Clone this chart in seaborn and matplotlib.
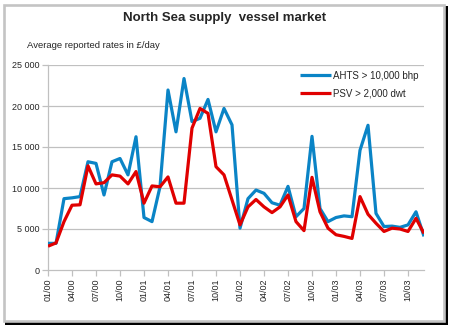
import matplotlib
matplotlib.use("Agg")
import matplotlib.pyplot as plt
from matplotlib.patches import Rectangle
from matplotlib.ticker import FuncFormatter
import numpy as np
import pandas as pd
import seaborn as sns

# Monthly average reported day rates (GBP/day), Jan 2000 - Dec 2003
months = list(range(48))
ahts = [3250, 3250, 8700, 8800, 8950, 13200, 13000, 9150, 13200, 13600, 11600, 16250,
        6400, 5900, 10150, 21950, 16850, 23350, 18100, 18500, 20800, 16850, 19700, 17700,
        5100, 8700, 9750, 9350, 8200, 7900, 10200, 6500, 7500, 16300, 7500, 5900,
        6400, 6600, 6500, 14600, 17650, 6900, 5300, 5350, 5200, 5500, 7100, 4100]
psv = [2900, 3300, 5900, 7900, 7950, 12700, 10500, 10650, 11600, 11450, 10500, 12000,
       8150, 10250, 10150, 11350, 8150, 8150, 17300, 19700, 19100, 12600, 11600, 8550,
       5500, 7700, 8600, 7700, 7000, 7700, 9150, 5900, 4800, 11300, 7100, 5100,
       4300, 4100, 3850, 8950, 6800, 5700, 4700, 5100, 5000, 4700, 6300, 4450]

series_names = ["AHTS > 10,000 bhp", "PSV > 2,000 dwt"]
tick_months = list(range(0, 48, 3))
tick_labels = ["01/00", "04/00", "07/00", "10/00", "01/01", "04/01", "07/01", "10/01",
               "01/02", "04/02", "07/02", "10/02", "01/03", "04/03", "07/03", "10/03"]
y_ticks = [0, 5000, 10000, 15000, 20000, 25000]

df = pd.DataFrame({
    "month": months * 2,
    "rate": ahts + psv,
    "series": [series_names[0]] * len(months) + [series_names[1]] * len(months),
})

sns.set_style("white")
plt.rcParams["font.family"] = ["Liberation Sans", "DejaVu Sans"]

W, H = 452, 328
fig = plt.figure(figsize=(W / 100, H / 100), dpi=100)
fig.patch.set_facecolor("white")

def px(x0, y0, x1, y1):
    """Pixel box (top-left origin) -> figure-fraction rect."""
    return [x0 / W, 1 - y1 / H, (x1 - x0) / W, (y1 - y0) / H]

ax = fig.add_axes(px(48, 65, 424, 270))
ax.set_facecolor("white")

grid_color = "#c0c0c0"
for yv in y_ticks[1:]:
    ax.axhline(yv, color=grid_color, lw=0.9, zorder=0)

sns.lineplot(data=df, x="month", y="rate", hue="series", ax=ax,
             palette={series_names[0]: "#0a84c6", series_names[1]: "#e00000"},
             linewidth=2.3, legend=True, zorder=3)
for line in ax.get_lines():
    line.set_solid_joinstyle("round")
    line.set_solid_capstyle("butt")

ax.set_xlim(0, 47)
ax.set_ylim(0, 25000)
ax.set_xticks(tick_months)
ax.set_xticklabels(tick_labels, rotation=90, fontsize=6.5)
ax.set_yticks(y_ticks)
ax.yaxis.set_major_formatter(FuncFormatter(lambda v, p: f"{int(v):,}".replace(",", " ")))
ax.tick_params(axis="y", labelsize=6.5, length=4, width=0.9, color=grid_color, pad=2)
ax.tick_params(axis="x", length=4, width=0.9, color=grid_color, pad=2)
ax.tick_params(bottom=True, left=True)
ax.set_xlabel("")
ax.set_ylabel("")
for side in ["top", "right"]:
    ax.spines[side].set_visible(False)
for side in ["left", "bottom"]:
    ax.spines[side].set_color(grid_color)
    ax.spines[side].set_linewidth(0.9)

leg = ax.legend(loc="upper right", bbox_to_anchor=(1.0, 1.0), frameon=False,
                fontsize=7, handlelength=3.2, handletextpad=0.2,
                labelspacing=0.75, borderaxespad=0.2)
for h in leg.get_lines():
    h.set_linewidth(2.3)

fig.text(225 / W, 1 - 18 / H, "North Sea supply  vessel market", ha="center", va="center",
         fontsize=9.5, fontweight="bold")
fig.text(27 / W, 1 - 45.5 / H, "Average reported rates in £/day", ha="left", va="center",
         fontsize=6.8)

# chart frame with drop shadow
fig.add_artist(Rectangle((px(445, 6, 448, 324)[0], px(445, 6, 448, 324)[1]),
                         3 / W, 318 / H, transform=fig.transFigure,
                         facecolor="black", edgecolor="none"))
fig.add_artist(Rectangle((px(5, 321.5, 448, 324.5)[0], px(5, 321.5, 448, 324.5)[1]),
                         443 / W, 3 / H, transform=fig.transFigure,
                         facecolor="black", edgecolor="none"))
r = px(4, 5, 444, 320.5)
fig.add_artist(Rectangle((r[0], r[1]), r[2], r[3], transform=fig.transFigure,
                         facecolor="none", edgecolor="#c4c4c4", linewidth=1.9))

fig.savefig("out.png", dpi=100, facecolor="white")
